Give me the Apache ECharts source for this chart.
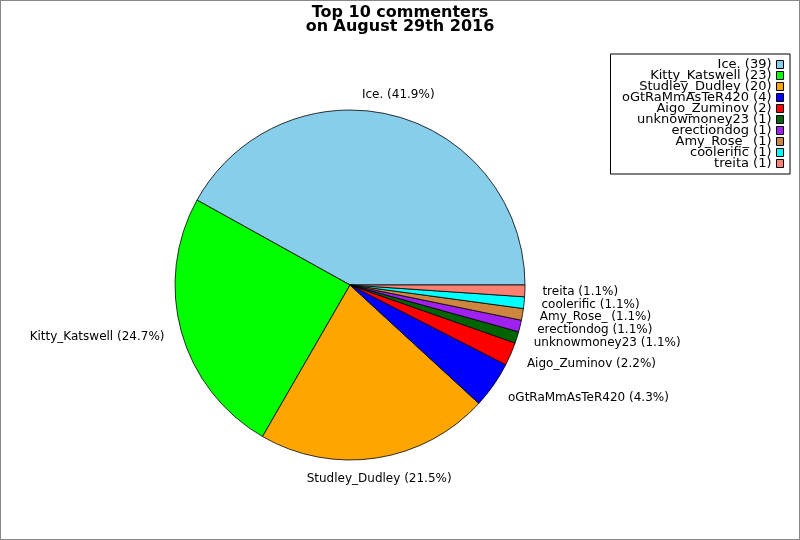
<!DOCTYPE html>
<html>
<head>
<meta charset="utf-8">
<script src="https://cdn.jsdelivr.net/npm/echarts@6/dist/echarts.min.js"></script>
<style>
  html, body { margin: 0; padding: 0; background: #fff; }
  #main { width: 798px; height: 538px; border: 1px solid #888; }
</style>
</head>
<body>
<div id="main"></div>
<script>
// commenters and comment counts
var names = ['Ice.', 'Kitty_Katswell', 'Studley_Dudley', 'oGtRaMmAsTeR420', 'Aigo_Zuminov',
             'unknowmoney23', 'erectiondog', 'Amy_Rose_', 'coolerific', 'treita'];
var counts = [39, 23, 20, 4, 2, 1, 1, 1, 1, 1];
var colors = ['#87ceeb', '#00ff00', '#ffa500', '#0000ff', '#ff0000',
              '#006400', '#a020f0', '#cd853f', '#00ffff', '#fa8072'];

var total = counts.reduce(function (a, b) { return a + b; }, 0);

var chart = echarts.init(document.getElementById('main'));

var pieData = names.map(function (n, i) {
  return { name: n, value: counts[i], itemStyle: { color: colors[i] } };
});

var option = {
  animation: false,
  textStyle: { fontFamily: 'DejaVu Sans' },
  title: {
    text: 'Top 10 commenters\non August 29th 2016',
    left: 'center',
    top: 0,
    textStyle: { fontSize: 16, fontWeight: 'bold', lineHeight: 14, color: '#000', fontFamily: 'DejaVu Sans' }
  },
  legend: {
    orient: 'vertical',
    right: 9,
    top: 53,
    align: 'right',
    icon: 'rect',
    itemWidth: 7,
    itemHeight: 8,
    itemGap: -2,
    padding: [4, 6, 4, 6],
    borderColor: '#000',
    borderWidth: 1,
    itemStyle: { borderColor: '#000', borderWidth: 1 },
    textStyle: { fontSize: 13, lineHeight: 11, color: '#000', width: 155, align: 'right', fontFamily: 'DejaVu Sans' },
    formatter: function (n) {
      return n + ' (' + counts[names.indexOf(n)] + ')';
    },
    data: names
  },
  series: [{
    type: 'pie',
    center: [349, 284],
    radius: 175,
    startAngle: 0,
    clockwise: false,
    avoidLabelOverlap: false,
    itemStyle: { borderColor: '#000', borderWidth: 0.8 },
    label: {
      show: true,
      position: 'outside',
      formatter: function (p) {
        return p.name + ' (' + (p.value / total * 100).toFixed(1) + '%)';
      },
      fontSize: 12,
      color: '#000',
      distanceToLabelLine: 0,
      fontFamily: 'DejaVu Sans'
    },
    labelLine: { show: false, length: 17.5, length2: 0 },
    // labels close to the vertical are centred on their anchor
    labelLayout: function (p) {
      if (p.dataIndex === 0) return { align: 'center', dy: -4 };
      if (p.dataIndex === 2) return { align: 'center', dy: 4 };
      if (p.dataIndex === 3 || p.dataIndex === 4) return { dy: 3 };
      return {};
    },
    emphasis: { disabled: true },
    data: pieData
  }]
};

chart.setOption(option);
</script>
</body>
</html>
